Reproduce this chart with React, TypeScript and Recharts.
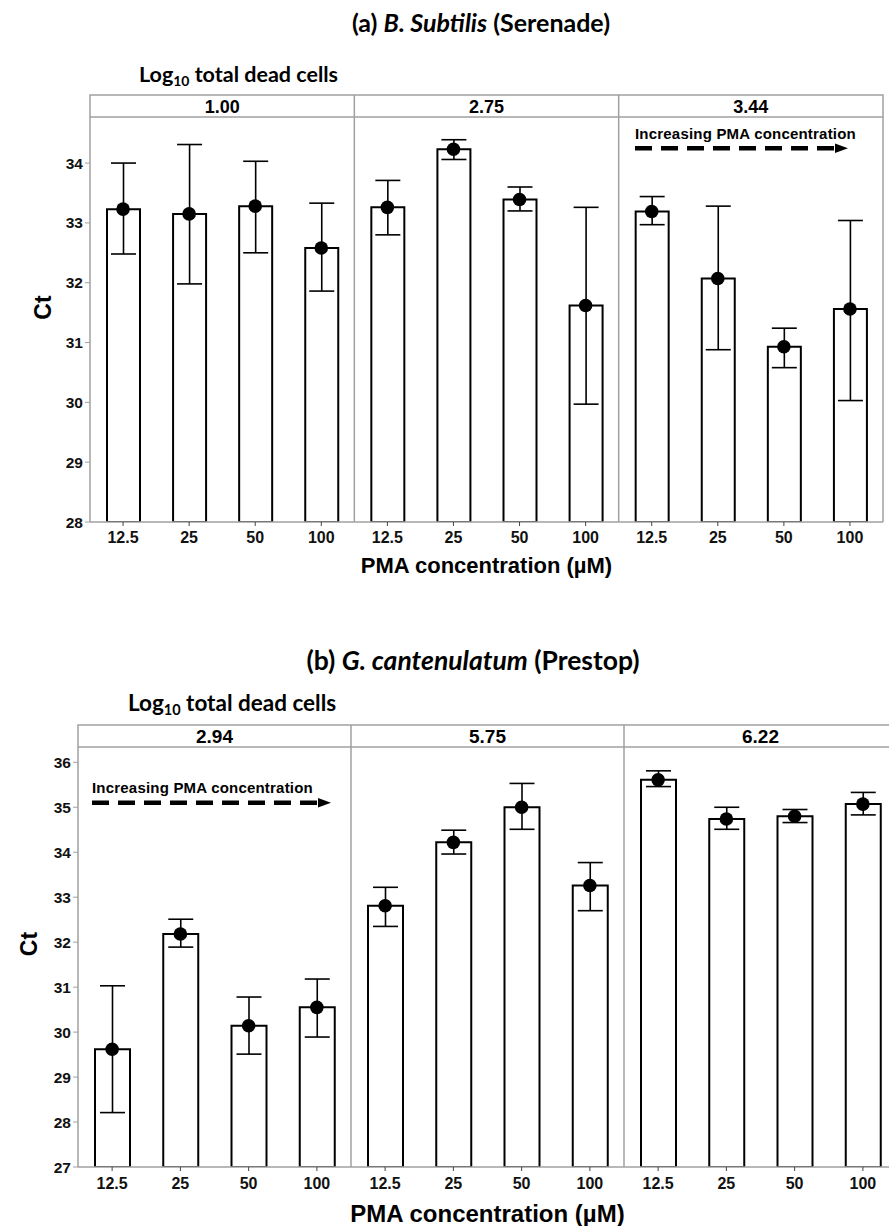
import React from 'react';
import { ComposedChart, Bar, Line, XAxis, YAxis, ErrorBar, ReferenceLine } from 'recharts';

const concentrations = ['12.5', '25', '50', '100'];

const facetsA = ['1.00', '2.75', '3.44'];
const meanA = [33.23, 33.15, 33.28, 32.58, 33.26, 34.23, 33.39, 31.62, 33.19, 32.07, 30.93, 31.56];
const lowA = [32.48, 31.98, 32.5, 31.86, 32.8, 34.06, 33.2, 29.97, 32.97, 30.88, 30.58, 30.03];
const highA = [34.0, 34.31, 34.03, 33.33, 33.71, 34.39, 33.6, 33.26, 33.44, 33.28, 31.24, 33.04];
const ticksA = [28, 29, 30, 31, 32, 33, 34];

const facetsB = ['2.94', '5.75', '6.22'];
const meanB = [29.62, 32.18, 30.14, 30.55, 32.81, 34.22, 35.0, 33.26, 35.61, 34.74, 34.8, 35.07];
const lowB = [28.21, 31.89, 29.51, 29.89, 32.35, 33.96, 34.51, 32.7, 35.46, 34.51, 34.66, 34.83];
const highB = [31.03, 32.51, 30.78, 31.18, 33.22, 34.49, 35.53, 33.77, 35.81, 35.0, 34.95, 35.33];
const ticksB = [27, 28, 29, 30, 31, 32, 33, 34, 35, 36];

const ARIAL = '"Liberation Sans", Arial, sans-serif';
const CALIBRI = 'Lato, "Open Sans", sans-serif';
const GRAY = '#a0a0a0';

function buildRows(mean: number[], low: number[], high: number[]) {
  return mean.map((m, i) => ({
    idx: i,
    mean: m,
    err: [m - low[i], high[i] - m],
  }));
}

const rowsA = buildRows(meanA, lowA, highA);
const rowsB = buildRows(meanB, lowB, highB);

type PanelProps = {
  rows: any[];
  domain: [number, number];
  ticks: number[];
  width: number;
  height: number;
  margin: { top: number; right: number; left: number; bottom: number };
  barSize: number;
  xTickFont: number;
  yTickFont: number;
  tickMargin: number;
  xLabelFont: number;
  xLabelOffset: number;
  ctDx: number;
  ctDy: number;
};

function Panel(p: PanelProps) {
  return (
    <ComposedChart width={p.width} height={p.height} data={p.rows} margin={p.margin}>
      <XAxis
        dataKey="idx"
        type="category"
        interval={0}
        height={40}
        tickSize={4}
        tickMargin={p.tickMargin}
        tickFormatter={(v: any) => concentrations[Number(v) % 4]}
        axisLine={{ stroke: GRAY, strokeWidth: 1.5 }}
        tickLine={{ stroke: '#444' }}
        tick={{ fill: '#111', fontSize: p.xTickFont, fontWeight: 'bold', fontFamily: ARIAL }}
        label={{
          value: 'PMA concentration (µM)',
          position: 'insideBottom',
          offset: p.xLabelOffset,
          style: { fill: '#000', fontSize: p.xLabelFont, fontWeight: 'bold', fontFamily: ARIAL },
        }}
      />
      <YAxis
        type="number"
        domain={p.domain}
        ticks={p.ticks}
        allowDataOverflow
        width={60}
        tickSize={5}
        tickMargin={2}
        axisLine={{ stroke: GRAY, strokeWidth: 1.5 }}
        tickLine={{ stroke: GRAY }}
        tick={{ fill: '#111', fontSize: p.yTickFont, fontWeight: 'bold', fontFamily: ARIAL }}
        label={{
          value: 'Ct',
          content: (lp: any) => {
            const vb = lp.viewBox || {};
            const cx = vb.x + p.ctDx;
            const cy = vb.y + vb.height / 2 + p.ctDy;
            return (
              <text
                x={cx}
                y={cy}
                transform={`rotate(-90, ${cx}, ${cy})`}
                textAnchor="middle"
                dominantBaseline="central"
                fontFamily={ARIAL}
                fontWeight="bold"
                fontSize={23}
                fill="#000"
              >
                Ct
              </text>
            );
          },
        }}
      />
      <ReferenceLine x={4} position="start" stroke={GRAY} strokeWidth={1.5} ifOverflow="visible" />
      <ReferenceLine x={8} position="start" stroke={GRAY} strokeWidth={1.5} ifOverflow="visible" />
      <ReferenceLine x={11} position="end" stroke={GRAY} strokeWidth={1.5} ifOverflow="visible" />
      <Bar dataKey="mean" barSize={p.barSize} fill="none" stroke="#000" strokeWidth={2} isAnimationActive={false}>
        <ErrorBar dataKey="err" width={12.5} stroke="#000" strokeWidth={1.6} direction="y" isAnimationActive={false} />
      </Bar>
      <Line
        dataKey="mean"
        stroke="transparent"
        strokeWidth={0}
        dot={{ r: 6.8, fill: '#000', stroke: '#000', strokeWidth: 0 }}
        activeDot={false}
        isAnimationActive={false}
      />
    </ComposedChart>
  );
}

function HeaderBox({ left, right, top, bottom, labels, baseline, fontSize }: any) {
  const w = (right - left) / labels.length;
  return (
    <g>
      <rect x={left} y={top} width={right - left} height={bottom - top} fill="#fff" stroke={GRAY} strokeWidth={1.5} />
      {labels.map((l: string, i: number) => (
        <g key={l}>
          {i > 0 && <line x1={left + w * i} x2={left + w * i} y1={top} y2={bottom} stroke={GRAY} strokeWidth={1.5} />}
          <text x={left + w * (i + 0.5)} y={baseline} textAnchor="middle" fontFamily={ARIAL} fontWeight="bold" fontSize={fontSize} fill="#000">
            {l}
          </text>
        </g>
      ))}
    </g>
  );
}

function Arrow({ x1, x2, y, textY, fontSize }: any) {
  return (
    <g>
      <text x={x1} y={textY} fontFamily={ARIAL} fontWeight="bold" fontSize={fontSize} fill="#000" letterSpacing={0.2}>
        Increasing PMA concentration
      </text>
      <line x1={x1} x2={x2 - 12} y1={y} y2={y} stroke="#000" strokeWidth={4.5} strokeDasharray="17 9" />
      <polygon points={`${x2 - 13},${y - 4.8} ${x2},${y} ${x2 - 13},${y + 4.8}`} fill="#000" />
    </g>
  );
}

export default function App() {
  return (
    <div style={{ position: 'relative', width: 889, height: 1226, overflow: 'hidden', background: '#fff' }}>
      <style>{'body{margin:0;background:#fff}'}</style>
      <div style={{ position: 'absolute', left: 0, top: 0 }}>
        <Panel
          rows={rowsA}
          domain={[28, 34.77]}
          ticks={ticksA}
          width={889}
          height={590}
          margin={{ top: 117, right: 6, left: 30, bottom: 28 }}
          barSize={33}
          xTickFont={16}
          yTickFont={15.5}
          tickMargin={6}
          xLabelFont={22}
          xLabelOffset={-10.5}
          ctDx={13}
          ctDy={-12}
        />
      </div>
      <div style={{ position: 'absolute', left: 0, top: 600 }}>
        <Panel
          rows={rowsB}
          domain={[27, 36.34]}
          ticks={ticksB}
          width={900}
          height={626}
          margin={{ top: 147, right: 3, left: 18, bottom: 19 }}
          barSize={35}
          xTickFont={16}
          yTickFont={15.5}
          tickMargin={7}
          xLabelFont={24}
          xLabelOffset={-15.3}
          ctDx={11}
          ctDy={-13}
        />
      </div>
      <svg width={889} height={1226} style={{ position: 'absolute', left: 0, top: 0, pointerEvents: 'none' }}>
        <text x={481} y={32} textAnchor="middle" fontFamily={CALIBRI} fontWeight="bold" fontSize={25} fill="#000">
          (a) <tspan fontStyle="italic">B. Subtilis</tspan> (Serenade)
        </text>
        <text x={139} y={82} fontFamily={CALIBRI} fontWeight="bold" fontSize={21.5} fill="#000">
          Log<tspan fontSize={14} dy={4}>10</tspan>
          <tspan dy={-4}> total dead cells</tspan>
        </text>
        <HeaderBox left={90} right={883} top={95} bottom={117} labels={facetsA} baseline={113} fontSize={18} />
        <Arrow x1={635} x2={848} y={148.3} textY={139} fontSize={15} />

        <text x={473} y={670} textAnchor="middle" fontFamily={CALIBRI} fontWeight="bold" fontSize={26.5} fill="#000">
          (b) <tspan fontStyle="italic">G. cantenulatum</tspan> (Prestop)
        </text>
        <text x={128} y={711} fontFamily={CALIBRI} fontWeight="bold" fontSize={22.5} fill="#000">
          Log<tspan fontSize={14.5} dy={4}>10</tspan>
          <tspan dy={-4}> total dead cells</tspan>
        </text>
        <HeaderBox left={78} right={897} top={725} bottom={747} labels={facetsB} baseline={743} fontSize={19} />
        <Arrow x1={92} x2={331} y={802.7} textY={793} fontSize={15} />
      </svg>
    </div>
  );
}
